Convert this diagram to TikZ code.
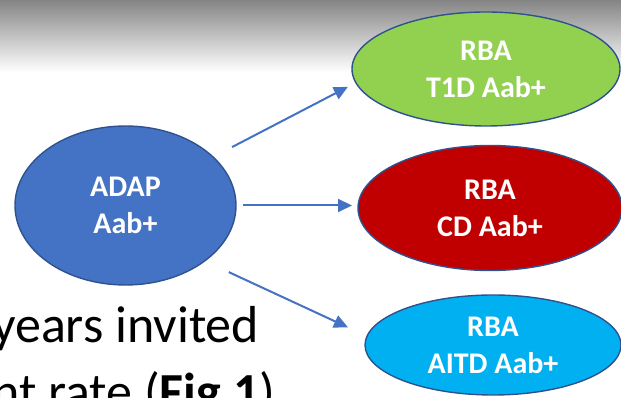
\documentclass[tikz,border=0pt]{standalone}
\usepackage{fontspec}
\setmainfont{Carlito}
\usetikzlibrary{arrows.meta,shapes.geometric}
\definecolor{adapblue}{HTML}{4472C4}
\definecolor{rimblue}{HTML}{2F528F}
\definecolor{t1dgreen}{HTML}{92D050}
\definecolor{cdred}{HTML}{C00000}
\definecolor{aitdcyan}{HTML}{00B0F0}
\begin{document}
\begin{tikzpicture}[x=1pt, y=1pt, >={Triangle[length=14pt, width=13pt]},
    group/.style={ellipse, draw=rimblue, line width=1.4pt, inner sep=0pt, outer sep=0pt,
      text=white, align=center, font=\fontsize{30}{37}\selectfont\bfseries},
    flow/.style={->, draw=adapblue, fill=adapblue, line width=2pt},
    slidetext/.style={anchor=base west, inner sep=0pt, font=\fontsize{52}{62}\selectfont}]
    \clip (0, 0) rectangle (621, 398);
    \shade[top color=black!48, bottom color=white] (0, 326) rectangle (621, 398);
    % source group
    \node[group, fill=adapblue, minimum width=221pt, minimum height=159pt] (adap) at (125.5, 192.5) {ADAP\\Aab+};
    % follow-up groups
    \node[group, fill=t1dgreen, minimum width=268pt, minimum height=114pt] (t1d) at (486, 329) {RBA\\T1D Aab+};
    \node[group, fill=cdred, minimum width=264pt, minimum height=125pt] (cd) at (490, 190) {RBA\\CD Aab+};
    \node[group, fill=aitdcyan, minimum width=256pt, minimum height=100pt] (aitd) at (493, 53) {RBA\\AITD Aab+};
    \draw[flow, shorten <=21.5pt, shorten >=9pt] (adap.29) -- (t1d.186);
    \draw[flow, shorten <=7pt, shorten >=6pt] (adap.east) -- (adap.east -| cd.west);
    \draw[flow, shorten <=26.6pt, shorten >=21pt] (adap.325) -- (aitd.176);
    % slide text behind the diagram
    \node[slidetext] (lineone) at (-8, 55) {years invited};
    \node[slidetext] (linetwo) at (-8, -12) {nt rate (\textbf{Fig 1})};
\end{tikzpicture}
\end{document}
